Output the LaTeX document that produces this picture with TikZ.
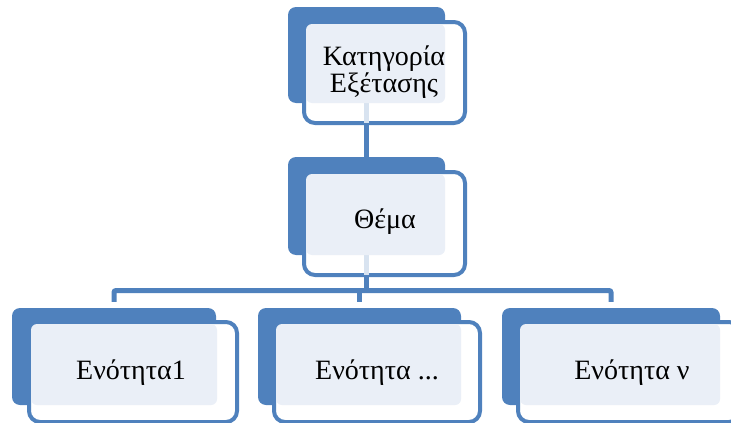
\documentclass[tikz,border=0pt]{standalone}
\usepackage{fontspec}
\setmainfont{Liberation Serif}
\usetikzlibrary{positioning}

\definecolor{sablue}{HTML}{4F81BD}
\definecolor{salight}{HTML}{EAEFF7}

\pgfdeclarelayer{background}
\pgfsetlayers{background,main}

\begin{document}
\begin{tikzpicture}[x=1pt,y=-1pt,
    back/.style={fill=sablue,rounded corners=8pt,inner sep=0pt},
    front/.style={draw=sablue,line width=4pt,fill=white,rounded corners=11pt,inner sep=0pt},
    light/.style={fill=salight,rounded corners=6pt,inner sep=0pt},
    boxtext/.style={font=\fontsize{28}{27}\selectfont,align=center,inner sep=0pt},
    conn/.style={draw=sablue,line width=5pt},
    faint/.style={draw=sablue!22,line width=5pt}]
    \useasboundingbox (0,0) rectangle (731,423);
    \clip (0,0) rectangle (731,423);

    % Kategoria
    \node[back,minimum width=157,minimum height=96] (k1b) at (366.5,55) {};
    \node[front,minimum width=161,minimum height=101] (k1f) at (384.5,72.5) {};
    \draw[faint] (k1b.south) -- ([yshift=2pt]k1b.south |- k1f.south);
    \node[light,minimum width=139,minimum height=79] (k1l) at (375.5,63.5) {};
    \node[boxtext] (k1t) at (384,72) {Κατηγορία\\Εξέτασης};

    % Thema
    \node[back,minimum width=157,minimum height=98] (k2b) at (366.5,206) {};
    \node[front,minimum width=161,minimum height=103] (k2f) at (384.5,223.5) {};
    \draw[faint] (k2b.south) -- ([yshift=2pt]k2b.south |- k2f.south);
    \node[light,minimum width=139,minimum height=81] (k2l) at (375.5,214.5) {};
    \node[boxtext] (k2t) at (385,222) {Θέμα};

    % Enotites
    \node[back,minimum width=204,minimum height=97] (u1b) at (114,356.5) {};
    \node[front,minimum width=208,minimum height=100] (u1f) at (133,372) {};
    \node[light,minimum width=186,minimum height=81] (u1l) at (124,364.5) {};
    \node[boxtext] (u1t) at (131,373) {Ενότητα1};

    \node[back,minimum width=203,minimum height=97] (u2b) at (359.5,356.5) {};
    \node[front,minimum width=206,minimum height=100] (u2f) at (377,372) {};
    \node[light,minimum width=185,minimum height=81] (u2l) at (368.5,364.5) {};
    \node[boxtext] (u2t) at (377,373) {Ενότητα ...};

    \node[back,minimum width=218,minimum height=97] (u3b) at (611,356.5) {};
    \node[front,minimum width=222,minimum height=100] (u3f) at (629,372) {};
    \node[light,minimum width=200,minimum height=81] (u3l) at (620,364.5) {};
    \node[boxtext] (u3t) at (632,373) {Ενότητα ν};

    % connectors
    \begin{pgfonlayer}{background}
    \coordinate (bar) at (365.5,290.5);
    \draw[conn] (k1b.south) -- (k2b.north);
    \draw[conn] (k2b.south) -- (k2b.south |- bar);
    \draw[conn,rounded corners=2pt] ([yshift=6pt]u1b.north) |- (bar) -| ([yshift=6pt]u3b.north);
    \draw[conn] (u2b.north |- bar) -- ([yshift=6pt]u2b.north);
    \end{pgfonlayer}
\end{tikzpicture}
\end{document}
